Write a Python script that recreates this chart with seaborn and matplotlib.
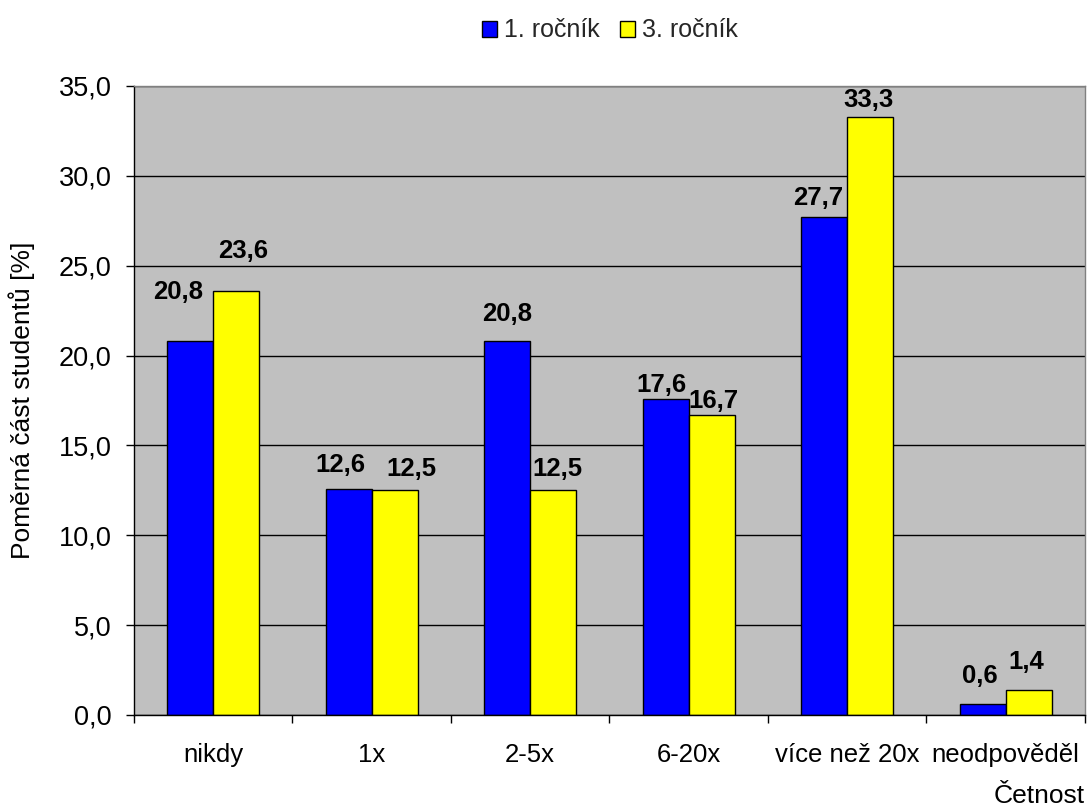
import matplotlib
matplotlib.use("Agg")
import matplotlib.pyplot as plt
import seaborn as sns
import pandas as pd
from matplotlib.ticker import FuncFormatter, MultipleLocator, FixedLocator
from matplotlib.patches import Patch

# Data
categories = ["nikdy", "1x", "2-5x", "6-20x", "více než 20x", "neodpověděl"]
series_names = ["1. ročník", "3. ročník"]
first_year = [20.8, 12.6, 20.8, 17.6, 27.7, 0.6]
third_year = [23.6, 12.5, 12.5, 16.7, 33.3, 1.4]
colors = ["#0000FF", "#FFFF00"]

df = pd.DataFrame({
    "Četnost": categories * 2,
    "Ročník": [series_names[0]] * len(categories) + [series_names[1]] * len(categories),
    "Podíl": first_year + third_year,
})

sns.set_theme(style="white")
plt.rcParams["font.family"] = ["Liberation Sans", "DejaVu Sans"]

fig = plt.figure(figsize=(10.89, 8.11), dpi=100)
ax = fig.add_axes([0.1230, 0.1184, 0.8733, 0.7756])
ax.set_facecolor("#C0C0C0")

sns.barplot(data=df, x="Četnost", y="Podíl", hue="Ročník", order=categories,
            hue_order=series_names, palette=colors, width=0.58,
            edgecolor="black", linewidth=1, saturation=1, ax=ax, legend=False)

ax.set_xlim(-0.5, len(categories) - 0.5)
ax.set_ylim(0, 35)
ax.yaxis.set_major_locator(MultipleLocator(5))
ax.yaxis.set_major_formatter(FuncFormatter(lambda v, p: f"{v:.1f}".replace(".", ",")))
ax.grid(axis="y", color="black", linewidth=1)
ax.set_axisbelow(True)

# category boundaries carry the tick marks
ax.xaxis.set_minor_locator(FixedLocator([i - 0.5 for i in range(len(categories) + 1)]))
ax.tick_params(axis="x", which="major", length=0, pad=20, labelsize=18.5, colors="black")
ax.tick_params(axis="x", which="minor", length=6, width=1, color="black", bottom=True)
ax.tick_params(axis="y", which="major", length=6, width=1, color="black", left=True,
               pad=10, labelsize=19.5, labelcolor="black")

for side in ["left", "bottom"]:
    ax.spines[side].set_color("black")
    ax.spines[side].set_linewidth(1)
for side in ["top", "right"]:
    ax.spines[side].set_color("#808080")
    ax.spines[side].set_linewidth(1)

ax.set_xlabel("")
ax.set_ylabel("Poměrná část studentů [%]", fontsize=19, labelpad=17, color="black")
fig.text(0.9963, 0.004, "Četnost", ha="right", va="bottom", fontsize=19, color="black")

# value labels (offsets in points from each bar's top centre)
offsets = [
    [(-9, 27), (-6, 8), (0, 11), (-3, 1.5), (-4, 5), (-2, 12)],
    [(5, 20), (12, 7), (3, 7), (1, 1), (-1, 3.5), (-2, 11.5)],
]
for s, values in enumerate([first_year, third_year]):
    shift = (s - 0.5) * 0.29
    for i, v in enumerate(values):
        dx, dy = offsets[s][i]
        ax.annotate(f"{v:.1f}".replace(".", ","), xy=(i + shift, v),
                    xytext=(dx, dy), textcoords="offset points",
                    ha="center", va="bottom", fontsize=18.5, fontweight="bold",
                    color="black")

handles = [Patch(facecolor=c, edgecolor="black", linewidth=1) for c in colors]
fig.legend(handles, series_names, loc="upper center", bbox_to_anchor=(0.56, 1.005),
           ncol=2, frameon=False, fontsize=18, handlelength=0.6, handleheight=0.6,
           handletextpad=0.3, columnspacing=0.8)

fig.savefig("out.png", dpi=100)
